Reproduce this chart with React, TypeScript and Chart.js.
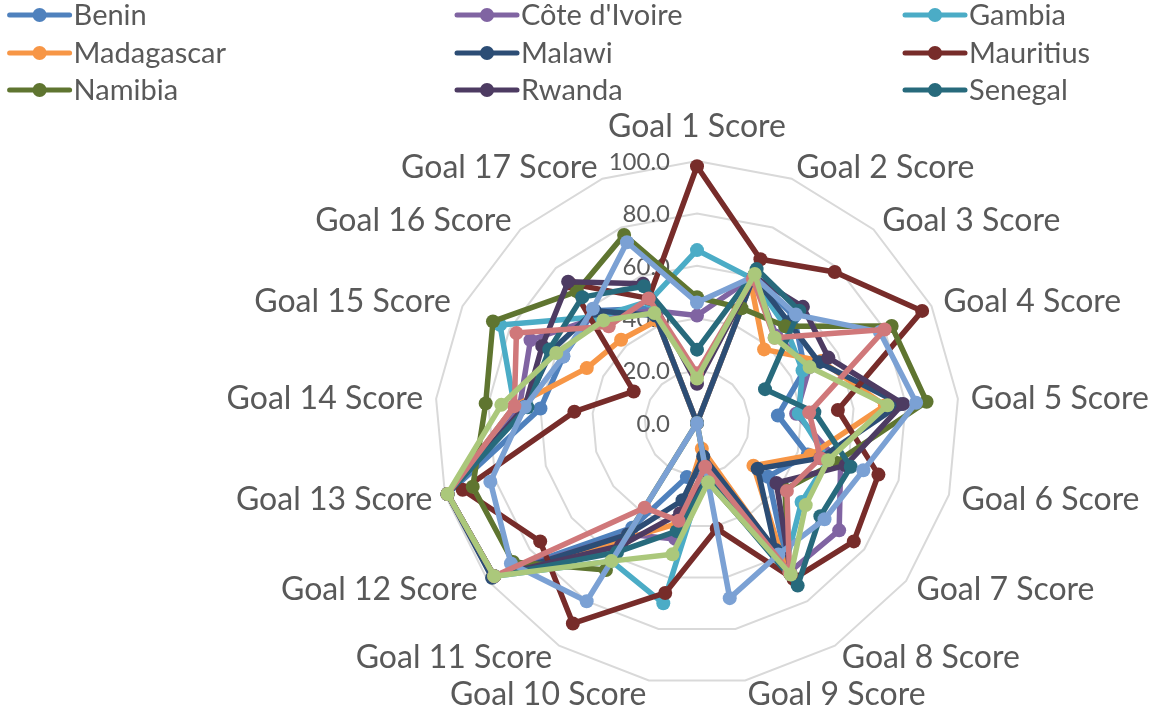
import React, { useEffect, useRef } from 'react';
import { Chart, registerables } from 'chart.js';

Chart.register(...registerables);

const goalLabels = [
  'Goal 1 Score', 'Goal 2 Score', 'Goal 3 Score', 'Goal 4 Score', 'Goal 5 Score',
  'Goal 6 Score', 'Goal 7 Score', 'Goal 8 Score', 'Goal 9 Score', 'Goal 10 Score',
  'Goal 11 Score', 'Goal 12 Score', 'Goal 13 Score', 'Goal 14 Score', 'Goal 15 Score',
  'Goal 16 Score', 'Goal 17 Score',
];

const tickValues = [0, 20, 40, 60, 80, 100];

const seriesNames = [
  'Benin', "Côte d'Ivoire", 'Gambia', 'Madagascar', 'Malawi', 'Mauritius',
  'Namibia', 'Rwanda', 'Senegal', 'Series 10', 'Series 11', 'Series 12',
];

const benin = [0, 60, 55, 46, 31, 44, 34, 66, 20, 21, 47, 97, 99, 60, 57, 58, 47];
const coteDIvoire = [41, 60, 45, 48, 38, 57, 68, 67, 22, 45, 50, 97, 99, 68, 71, 55, 46];
const gambia = [66, 59, 50, 45, 39, 52, 50, 64, 18, 70, 62, 97, 99, 70, 84, 55, 50];
const madagascar = [0, 57, 38, 53, 72, 45, 27, 63, 10, 39, 52, 97, 99, 70, 47, 43, 42];
const malawi = [0, 60, 52, 52, 78, 49, 29, 57, 13, 30, 50, 98, 99, 66, 62, 58, 44];
const mauritius = [98, 67, 78, 96, 54, 72, 75, 70, 41, 66, 90, 75, 93, 47, 27, 72, 51];
const namibia = [48, 47, 50, 83, 88, 55, 42, 67, 23, 0, 66, 88, 89, 81, 87, 68, 77];
const rwanda = [15, 60, 60, 56, 79, 59, 38, 68, 22, 35, 55, 97, 99, 66, 66, 73, 57];
const senegal = [28, 63, 58, 29, 45, 61, 59, 73, 22, 42, 58, 97, 99, 65, 63, 65, 56];
const series10 = [46, 60, 56, 78, 84, 66, 61, 59, 68, 0, 80, 89, 82, 66, 57, 59, 74];
const series11 = [19, 59, 44, 80, 43, 49, 43, 67, 17, 38, 38, 97, 99, 70, 77, 50, 51];
const series12 = [17, 61, 44, 48, 73, 52, 52, 68, 23, 51, 62, 97, 99, 75, 60, 53, 45];

const seriesValues = [
  benin, coteDIvoire, gambia, madagascar, malawi, mauritius,
  namibia, rwanda, senegal, series10, series11, series12,
];

const seriesColors = [
  '#4F81BD', '#8064A2', '#4BACC6', '#F79646', '#2C4D75', '#772C2A',
  '#5F7530', '#4D3B62', '#276A7C', '#7BA1D4', '#D0787A', '#ABC87B',
];

const legendCount = 9;

const FONT = 'Lato, "Open Sans", "DejaVu Sans", sans-serif';
const TEXT_COLOR = '#595959';

const overlayPlugin = {
  id: 'excelOverlay',
  beforeDatasetsDraw(chart: any) {
    const scale = chart.scales.r;
    const ctx = chart.ctx;
    ctx.save();
    ctx.font = `24px ${FONT}`;
    ctx.fillStyle = TEXT_COLOR;
    ctx.textAlign = 'right';
    ctx.textBaseline = 'middle';
    tickValues.forEach((v) => {
      const d = scale.getDistanceFromCenterForValue(v);
      ctx.fillText(v.toFixed(1), scale.xCenter - 27, scale.yCenter - d + 1);
    });
    ctx.restore();
  },
  afterDraw(chart: any) {
    const scale = chart.scales.r;
    const ctx = chart.ctx;
    ctx.save();
    // point labels
    ctx.font = `32px ${FONT}`;
    ctx.fillStyle = TEXT_COLOR;
    const labels: string[] = chart.data.labels;
    labels.forEach((lab, i) => {
      const p = scale.getPointPosition(i, scale.drawingArea + 13);
      const dx = p.x - scale.xCenter;
      let y = p.y + 1;
      ctx.textBaseline = 'middle';
      if (Math.abs(dx) < 1) {
        ctx.textAlign = 'center';
        y = p.y - 21;
      } else if (dx > 0) {
        ctx.textAlign = 'left';
      } else {
        ctx.textAlign = 'right';
      }
      ctx.fillText(lab, p.x, y);
    });

    // legend
    const colX = [9.6, 457, 905];
    const rowY = [15, 53, 90];
    ctx.font = `29px ${FONT}`;
    ctx.textAlign = 'left';
    ctx.textBaseline = 'middle';
    chart.data.datasets.slice(0, legendCount).forEach((ds: any, i: number) => {
      const x = colX[i % 3];
      const y = rowY[Math.floor(i / 3)];
      ctx.strokeStyle = ds.borderColor;
      ctx.lineWidth = 5;
      ctx.lineCap = 'round';
      ctx.beginPath();
      ctx.moveTo(x, y);
      ctx.lineTo(x + 60, y);
      ctx.stroke();
      ctx.fillStyle = ds.borderColor;
      ctx.beginPath();
      ctx.arc(x + 30, y, 7, 0, Math.PI * 2);
      ctx.fill();
      ctx.fillStyle = TEXT_COLOR;
      ctx.fillText(ds.label, x + 64, y + 1);
    });
    ctx.restore();
  },
};

export default function App() {
  const canvasRef = useRef<HTMLCanvasElement | null>(null);

  useEffect(() => {
    if (!canvasRef.current) return;
    const n = seriesNames.length;
    const chart = new Chart(canvasRef.current, {
      type: 'radar',
      data: {
        labels: goalLabels,
        datasets: seriesNames.map((name, i) => ({
          label: name,
          data: seriesValues[i],
          borderColor: seriesColors[i],
          backgroundColor: seriesColors[i],
          pointBackgroundColor: seriesColors[i],
          pointBorderColor: seriesColors[i],
          pointBorderWidth: 0,
          pointRadius: 7,
          pointHoverRadius: 7,
          borderWidth: 5.5,
          borderJoinStyle: 'round' as const,
          borderCapStyle: 'round' as const,
          fill: false,
          tension: 0,
          order: n - i,
        })),
      },
      options: {
        animation: false,
        responsive: true,
        maintainAspectRatio: false,
        layout: { padding: { left: 435, right: 190, top: 161, bottom: 24 } },
        plugins: {
          legend: { display: false },
          tooltip: { enabled: false },
        },
        scales: {
          r: {
            min: 0,
            max: 100,
            ticks: { display: false, stepSize: 20 },
            pointLabels: { display: false },
            angleLines: { display: false },
            grid: { color: '#D9D9D9', lineWidth: 2, circular: false },
          },
        },
      },
      plugins: [overlayPlugin],
    });
    return () => chart.destroy();
  }, []);

  return (
    <div style={{ position: 'absolute', left: 0, top: 0, width: 1149, height: 709, background: '#fff' }}>
      <canvas ref={canvasRef} />
    </div>
  );
}
